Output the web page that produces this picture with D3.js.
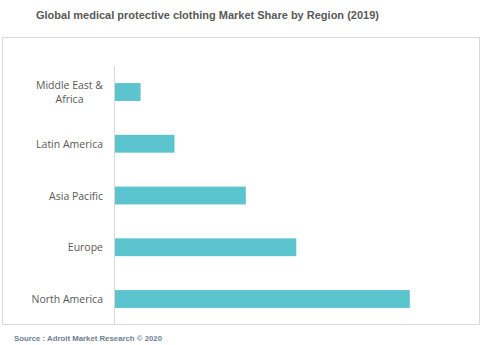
<!DOCTYPE html>
<html><head><meta charset="utf-8">
<script src="https://cdn.jsdelivr.net/npm/d3@7"></script>
<style>body{margin:0;background:#fff}svg{display:block}</style>
</head><body><svg id="c" width="484" height="345"></svg>
<script>
const categories = ["Middle East & Africa", "Latin America", "Asia Pacific", "Europe", "North America"];
const shares = [3.7, 8.6, 18.9, 26.2, 42.6];
const titleText = "Global medical protective clothing Market Share by Region (2019)";
const sourceText = "Source : Adroit Market Research © 2020";

const svg = d3.select("#c");
svg.append("rect").attr("x", 2.5).attr("y", 37.5).attr("width", 477).attr("height", 287)
  .attr("fill", "none").attr("stroke", "#d9d9d9").attr("stroke-width", 1);

svg.append("text").attr("x", 36).attr("y", 19).text(titleText)
  .attr("font-family", "Liberation Sans, Arial, sans-serif").attr("font-size", 11).attr("font-weight", "bold")
  .attr("fill", "#595959");

const y = d3.scaleBand().domain(categories).range([66, 325]).paddingInner(0.655).paddingOuter(0.33);
const x = d3.scaleLinear().domain([0, 50]).range([115, 461]);

svg.append("line").attr("x1", 114.5).attr("x2", 114.5).attr("y1", 66).attr("y2", 324)
  .attr("stroke", "#d9d9d9");

svg.selectAll("rect.bar").data(categories).join("rect").attr("class", "bar")
  .attr("x", x(0)).attr("y", d => y(d)).attr("height", y.bandwidth())
  .attr("width", (d, i) => x(shares[i]) - x(0)).attr("fill", "#5bc4cf");

const lab = svg.selectAll("text.lab").data(categories).join("text").attr("class", "lab")
  .attr("font-family", "Open Sans, sans-serif").attr("font-size", 10.5)
  .attr("fill", "#595959");
lab.each(function(d) {
  const t = d3.select(this);
  const cy = y(d) + y.bandwidth() / 2;
  const lines = d === "Middle East & Africa" ? ["Middle East &", "Africa"] : [d];
  const lh = 14;
  if (lines.length === 1) {
    t.attr("text-anchor", "end");
    t.append("tspan").attr("x", 103).attr("y", cy + 4).text(lines[0]);
  } else {
    t.attr("text-anchor", "middle");
    const tmp = svg.append("text").attr("font-family", "Open Sans, sans-serif").attr("font-size", 10.5).text(lines[0]);
    const w = tmp.node().getComputedTextLength();
    tmp.remove();
    lines.forEach((l, i) => {
      t.append("tspan").attr("x", 103 - w / 2).attr("y", cy + 4 + (i - (lines.length - 1) / 2) * lh).text(l);
    });
  }
});

svg.append("text").attr("x", 14).attr("y", 341).text(sourceText)
  .attr("font-family", "Liberation Sans, Arial, sans-serif").attr("font-size", 7.8).attr("font-weight", "bold")
  .attr("fill", "#6e7f91");
</script></body></html>
